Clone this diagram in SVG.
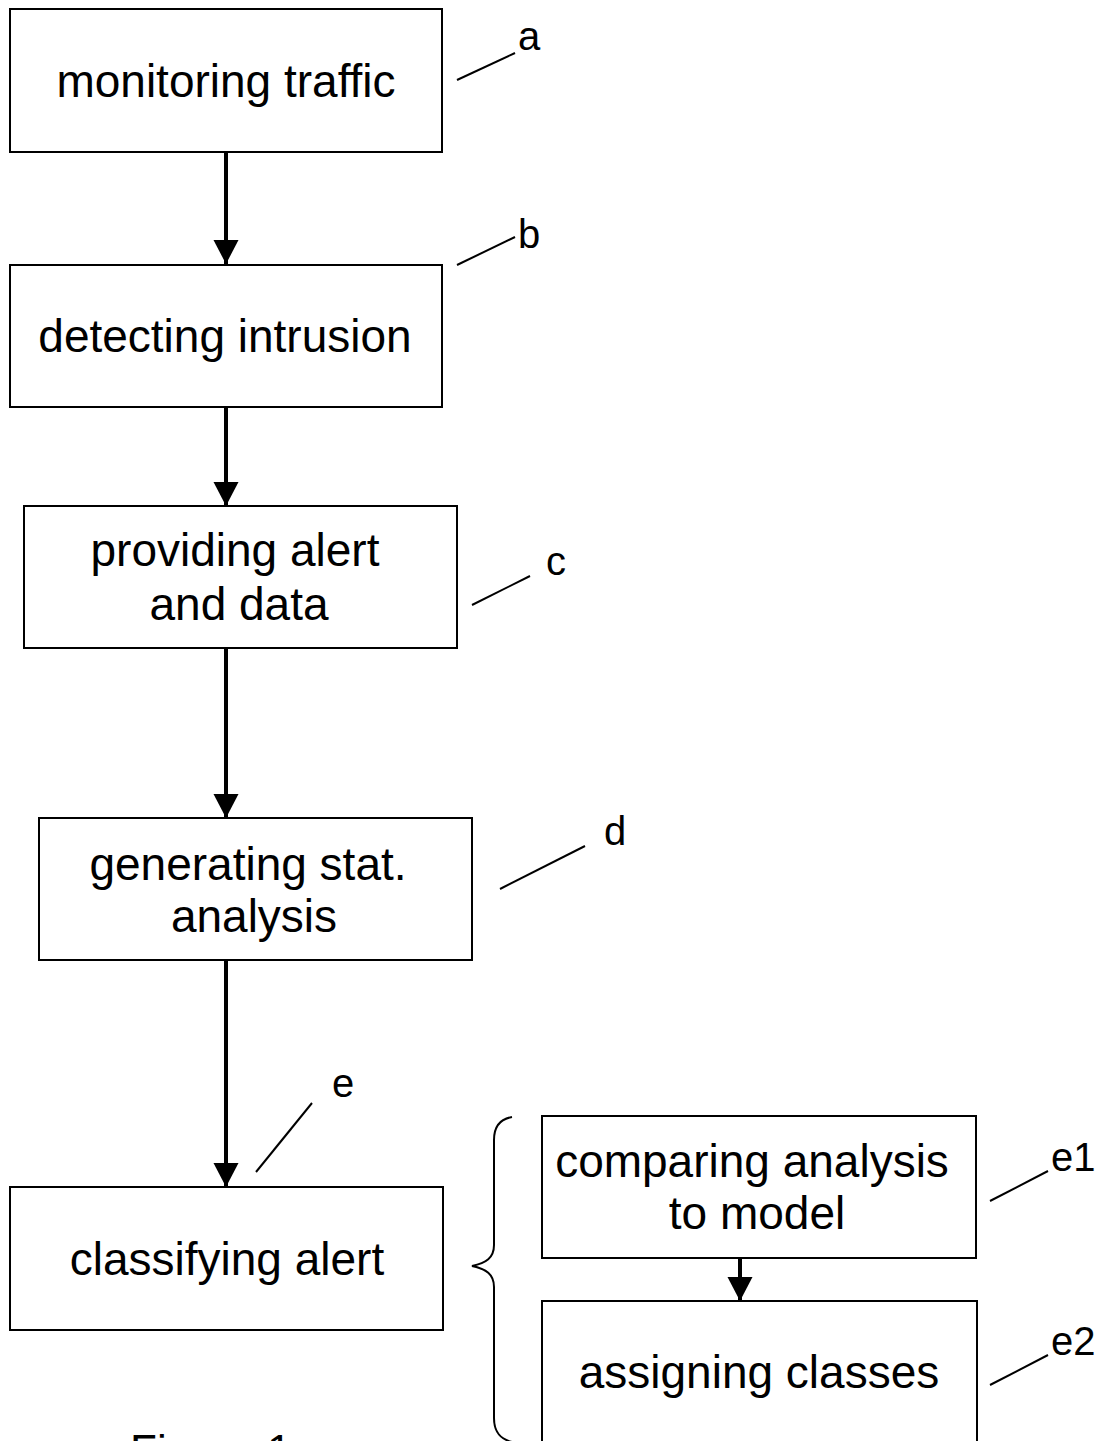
<svg xmlns="http://www.w3.org/2000/svg" width="1109" height="1441" viewBox="0 0 1109 1441">
<style>
.box{fill:#fff;stroke:#000;stroke-width:2}
.t{font-family:"Liberation Sans",Arial,sans-serif;font-size:46px;fill:#000;text-anchor:middle}
.lbl{font-family:"Liberation Sans",Arial,sans-serif;font-size:40px;fill:#000}
.lead{stroke:#000;stroke-width:2;fill:none}
.flow{stroke:#000;stroke-width:4;fill:none;marker-end:url(#ah)}
</style>
<defs>
<marker id="ah" markerUnits="userSpaceOnUse" markerWidth="26" markerHeight="26" refX="24" refY="12.5" orient="auto" viewBox="0 0 26 26">
<path d="M0,0 L24,12.5 L0,25 z" fill="#000"/>
</marker>
</defs>
<rect width="1109" height="1441" fill="#fff"/>
<g id="connectors">
<line class="flow" x1="226" y1="152" x2="226" y2="264"/>
<line class="flow" x1="226" y1="407" x2="226" y2="506"/>
<line class="flow" x1="226" y1="648" x2="226" y2="818"/>
<line class="flow" x1="226" y1="960" x2="226" y2="1187"/>
<line class="flow" x1="740" y1="1258" x2="740" y2="1301"/>
<path class="lead" d="M512,1117 C500,1119 494,1126 494,1140 L494,1245 C494,1258 486,1263 472,1266 C486,1269 494,1274 494,1287 L494,1418 C494,1432 500,1439 512,1442"/>
</g>
<g id="node-a">
<rect class="box" x="10" y="9" width="432" height="143"/>
<text class="t" x="226" y="97">monitoring traffic</text>
</g>
<g id="node-b">
<rect class="box" x="10" y="265" width="432" height="142"/>
<text class="t" x="225" y="352">detecting intrusion</text>
</g>
<g id="node-c">
<rect class="box" x="24" y="506" width="433" height="142"/>
<text class="t" x="235" y="566">providing alert</text>
<text class="t" x="239" y="620">and data</text>
</g>
<g id="node-d">
<rect class="box" x="39" y="818" width="433" height="142"/>
<text class="t" x="248" y="880">generating stat.</text>
<text class="t" x="254" y="932">analysis</text>
</g>
<g id="node-e">
<rect class="box" x="10" y="1187" width="433" height="143"/>
<text class="t" x="227" y="1275">classifying alert</text>
</g>
<g id="node-e1">
<rect class="box" x="542" y="1116" width="434" height="142"/>
<text class="t" x="752" y="1177">comparing analysis</text>
<text class="t" x="757" y="1229">to model</text>
</g>
<g id="node-e2">
<rect class="box" x="542" y="1301" width="435" height="160"/>
<text class="t" x="759" y="1388">assigning classes</text>
</g>
<g id="labels">
<line class="lead" x1="457" y1="80" x2="515" y2="53"/>
<text class="lbl" x="518" y="50">a</text>
<line class="lead" x1="457" y1="265" x2="515" y2="237"/>
<text class="lbl" x="518" y="248">b</text>
<line class="lead" x1="472" y1="605" x2="530" y2="576"/>
<text class="lbl" x="546" y="575">c</text>
<line class="lead" x1="500" y1="889" x2="585" y2="846"/>
<text class="lbl" x="604" y="845">d</text>
<line class="lead" x1="256" y1="1172" x2="312" y2="1103"/>
<text class="lbl" x="332" y="1097">e</text>
<line class="lead" x1="990" y1="1201" x2="1048" y2="1171"/>
<text class="lbl" x="1051" y="1171">e1</text>
<line class="lead" x1="990" y1="1385" x2="1048" y2="1355"/>
<text class="lbl" x="1051" y="1355">e2</text>
</g>
<text class="lbl" x="130" y="1466" style="font-size:44px">Figure 1</text>
</svg>
